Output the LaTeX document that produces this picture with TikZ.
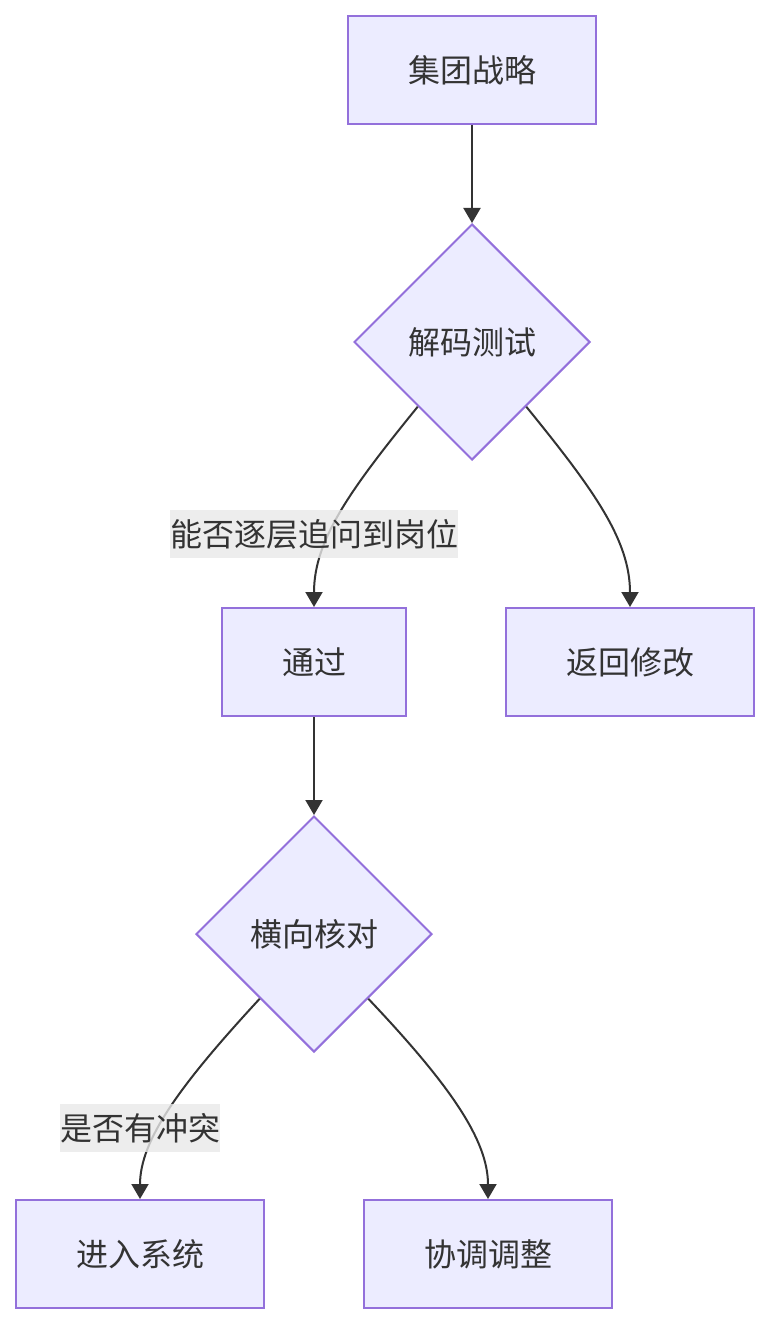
\documentclass[tikz,border=0pt]{standalone}
\usepackage{fontspec}
\newfontfamily\cjk{Noto Sans CJK SC}
\usetikzlibrary{shapes.geometric, arrows.meta}
\definecolor{nodefill}{HTML}{ECECFF}
\definecolor{nodeline}{HTML}{9370DB}
\definecolor{ink}{HTML}{333333}
\definecolor{lblbg}{HTML}{E8E8E8}
\tikzset{
  box/.style={draw=nodeline, fill=nodefill, line width=2pt, minimum width=248pt, minimum height=108pt, text=ink, font=\cjk\fontsize{32}{38}\selectfont},
  decision/.style={diamond, draw=nodeline, fill=nodefill, line width=2pt, minimum width=236pt, minimum height=236pt, inner sep=0pt, text=ink, font=\cjk\fontsize{32}{38}\selectfont},
  edge/.style={draw=ink, line width=2pt, -{Triangle[width=17pt,length=15pt]}},
  lbl/.style={fill=lblbg, fill opacity=0.8, text opacity=1, text=ink, inner xsep=0pt, minimum height=48pt, font=\cjk\fontsize{32}{38}\selectfont}
}
\begin{document}
\begin{tikzpicture}[x=1pt, y=-1pt]
                \useasboundingbox (0,0) rectangle (770,1324);
                \node[box] (strat) at (472,70) {集团战略};
                \node[decision] (decode) at (472,342) {解码测试};
                \node[box, minimum width=184pt] (pass) at (314,662) {通过};
                \node[box] (revise) at (630,662) {返回修改};
                \node[decision] (cross) at (314,934) {横向核对};
                \node[box] (enter) at (140,1254) {进入系统};
                \node[box] (adjust) at (488,1254) {协调调整};
                \draw[edge] (strat) -- (decode);
                \draw[edge] (decode.230) .. controls (350,490) and (314,540) .. (pass.north);
                \draw[edge] (decode.310) .. controls (594,490) and (630,540) .. (revise.north);
                \draw[edge] (pass) -- (cross);
                \draw[edge] (cross.230) .. controls (180,1085) and (140,1140) .. (enter.north);
                \draw[edge] (cross.310) .. controls (450,1085) and (488,1140) .. (adjust.north);
                \node[lbl] (q1) at (314,534) {能否逐层追问到岗位};
                \node[lbl] (q2) at (140,1128) {是否有冲突};
            \end{tikzpicture}
\end{document}
